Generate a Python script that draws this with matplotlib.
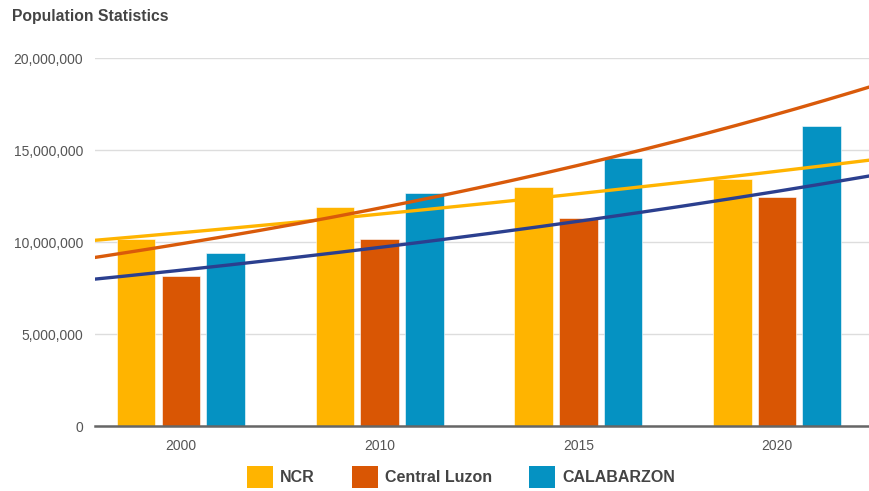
import numpy as np
import matplotlib.pyplot as plt
from matplotlib.patches import Patch

plt.rcParams['font.family'] = ['Liberation Sans', 'DejaVu Sans']

years = ['2000', '2010', '2015', '2020']
ncr = [10170000, 11920000, 12970000, 13440000]
central_luzon = [8170000, 10160000, 11300000, 12430000]
calabarzon = [9390000, 12650000, 14550000, 16290000]
series_names = ['NCR', 'Central Luzon', 'CALABARZON']
yticks = [0, 5000000, 10000000, 15000000, 20000000]

bar_colors = ['#FFB400', '#D95604', '#0592C2']
# trend line colours as they appear in the chart (CL / CALABARZON swapped)
trend_colors = ['#FFB400', '#2B3F8F', '#D95A0A']

fig = plt.figure(figsize=(8.69, 4.91), dpi=100)
ax = fig.add_axes([95 / 869, 1 - 426 / 491, 1 - 95 / 869, (426 - 58) / 491])

x = np.arange(len(years))
pitch = 0.225
width = 0.194
all_series = [ncr, central_luzon, calabarzon]
for i, vals in enumerate(all_series):
    ax.bar(x + (i - 1) * pitch, vals, width, color=bar_colors[i],
           edgecolor='white', linewidth=0.4, zorder=2)

# exponential trend lines fitted to each series
xt = np.linspace(-0.6, 3.6, 200)
for i, vals in enumerate(all_series):
    b, a = np.polyfit(x, np.log(vals), 1)
    ax.plot(xt, np.exp(a + b * xt), color=trend_colors[i], lw=2.4,
            zorder=3, solid_capstyle='butt')

ax.set_xlim(-0.432, 3.463)
ax.set_ylim(0, 20000000)
ax.set_yticks(yticks)
ax.set_yticklabels([f'{v:,}' for v in yticks])
ax.set_xticks(x)
ax.set_xticklabels(years)
ax.tick_params(axis='both', length=0, labelsize=10, colors='#555555')
ax.tick_params(axis='y', pad=8.5)
ax.tick_params(axis='x', pad=9)
ax.grid(axis='y', color='#dddddd', lw=1, zorder=0)
ax.set_axisbelow(True)
for s in ['top', 'right', 'left']:
    ax.spines[s].set_visible(False)
ax.spines['bottom'].set_color('#666666')
ax.spines['bottom'].set_linewidth(1.8)
ax.spines['bottom'].set_zorder(4)

fig.text(12 / 869, 1 - 16 / 491, 'Population Statistics', fontsize=11.3,
         fontweight='bold', color='#444444', va='center', ha='left')

handles = [Patch(facecolor=c, edgecolor='none') for c in bar_colors]
leg = fig.legend(handles, series_names, loc='center', ncol=3,
                 bbox_to_anchor=(461 / 869, 1 - 477 / 491), frameon=False,
                 prop={'size': 11.5, 'weight': 'bold'},
                 handlelength=1.65, handleheight=1.65, handletextpad=0.45,
                 columnspacing=2.3)
for t in leg.get_texts():
    t.set_color('#444444')

fig.savefig('out.png', dpi=100)
